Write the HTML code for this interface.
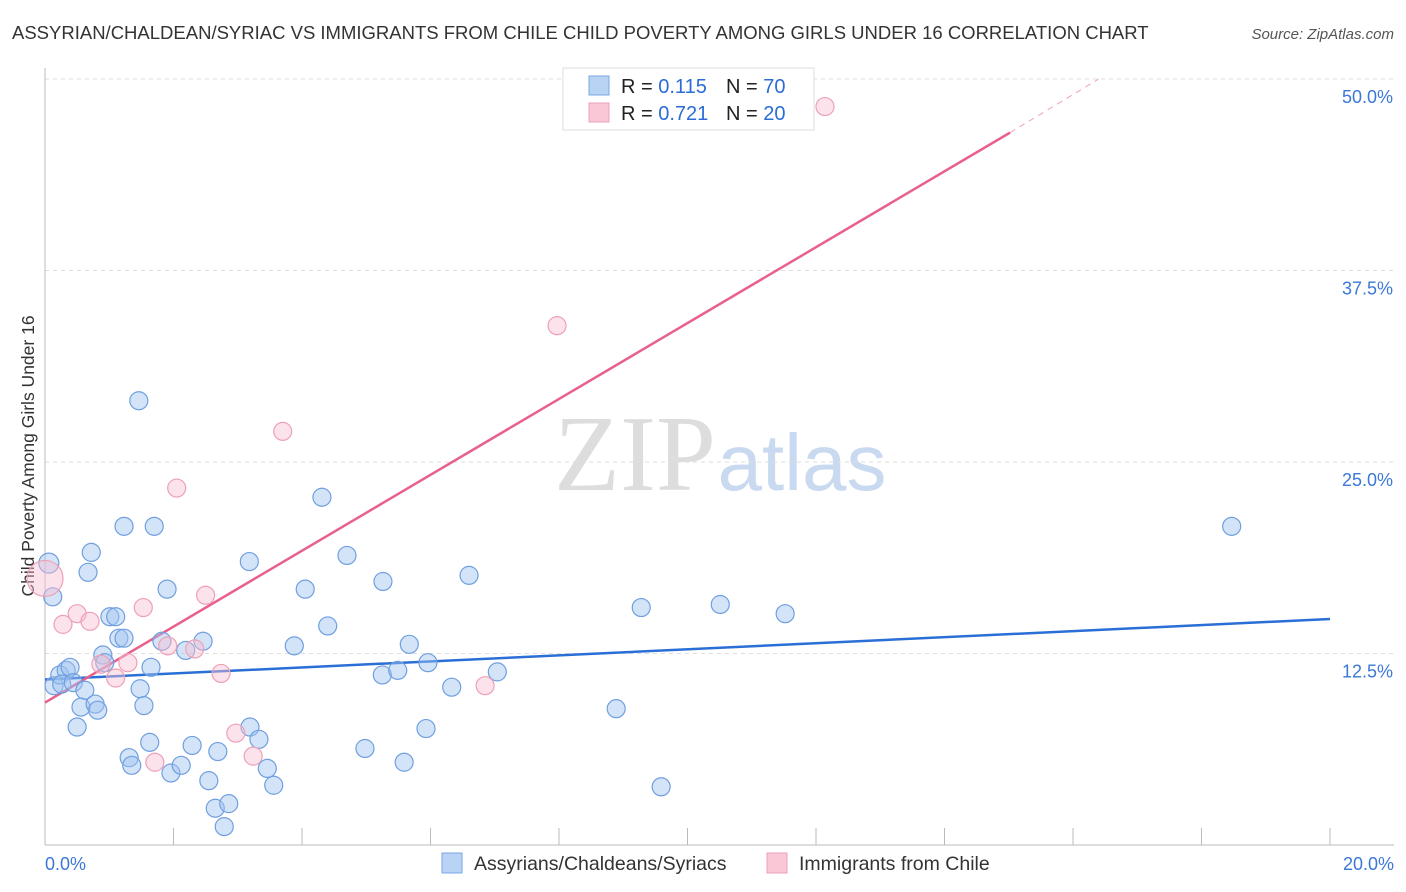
<!DOCTYPE html>
<html><head><meta charset="utf-8"><style>
body{margin:0;background:#fff;font-family:"Liberation Sans",sans-serif;}
svg{display:block}
</style></head><body>
<svg id="chart" width="1406" height="892" xmlns="http://www.w3.org/2000/svg">
<text x="12" y="39" font-size="18.5" fill="#333">ASSYRIAN/CHALDEAN/SYRIAC VS IMMIGRANTS FROM CHILE CHILD POVERTY AMONG GIRLS UNDER 16 CORRELATION CHART</text>
<text x="1394" y="39" font-size="15" fill="#555" font-style="italic" text-anchor="end">Source: ZipAtlas.com</text>
<text x="34" y="456" font-size="17.5" fill="#333" text-anchor="middle" transform="rotate(-90 34 456)">Child Poverty Among Girls Under 16</text>
<g><text x="635" y="490" font-size="108" fill="#ddd" font-family="Liberation Serif,serif" text-anchor="middle">ZIP</text><text x="802" y="490" font-size="80" fill="#c9d9f0" text-anchor="middle">atlas</text></g>
<g id="grid"></g><g id="axes"></g><g id="lines"></g><g id="pts"></g>
<g>
<rect x="563" y="68" width="251" height="62" fill="#fff" stroke="#ddd"/>
<rect x="589" y="76" width="20" height="19" fill="#b9d3f5" stroke="#7aa7e6"/>
<rect x="589" y="103" width="20" height="19" fill="#f9c7d6" stroke="#eea0b8"/>
<text x="621" y="93" font-size="20" fill="#222">R = <tspan fill="#2b6cd6">0.115</tspan></text>
<text x="726" y="93" font-size="20" fill="#222">N = <tspan fill="#2b6cd6">70</tspan></text>
<text x="621" y="120" font-size="20" fill="#222">R = <tspan fill="#2b6cd6">0.721</tspan></text>
<text x="726" y="120" font-size="20" fill="#222">N = <tspan fill="#2b6cd6">20</tspan></text>
</g>
<g>
<rect x="442" y="853" width="20" height="20" fill="#b9d3f5" stroke="#7aa7e6"/>
<text x="474" y="870" font-size="19.5" fill="#333">Assyrians/Chaldeans/Syriacs</text>
<rect x="767" y="853" width="20" height="20" fill="#f9c7d6" stroke="#eea0b8"/>
<text x="799" y="870" font-size="19.5" fill="#333">Immigrants from Chile</text>
</g>
</svg>
<script>
const yTicks=[12.5,25,37.5,50];
const yTickLabels=["12.5%","25.0%","37.5%","50.0%"];
const xTicks=[0,2,4,6,8,10,12,14,16,18,20];
const blueX=[0.06,0.12,0.14,0.23,0.33,0.39,0.26,0.44,0.62,0.5,0.56,0.78,0.82,0.67,0.72,0.9,0.93,1.01,1.1,1.15,1.23,1.23,1.7,1.46,1.48,1.54,1.63,1.65,1.31,1.35,1.82,1.9,1.96,2.12,2.19,2.29,2.46,2.55,2.65,2.69,2.79,2.86,3.19,3.18,3.33,3.46,3.56,3.88,4.05,4.31,4.4,4.7,4.98,5.25,5.26,5.49,5.59,5.67,5.93,5.96,6.33,6.6,7.04,8.89,9.28,9.59,10.51,11.52,18.47];
const blueY=[18.4,16.2,10.4,11.1,11.4,11.6,10.5,10.6,10.1,7.7,9.0,9.2,8.8,17.8,19.1,12.4,11.9,14.9,14.9,13.5,13.5,20.8,20.8,29.0,10.2,9.1,6.7,11.6,5.7,5.2,13.3,16.7,4.7,5.2,12.7,6.5,13.3,4.2,2.4,6.1,1.2,2.7,7.7,18.5,6.9,5.0,3.9,13.0,16.7,22.7,14.3,18.9,6.3,11.1,17.2,11.4,5.4,13.1,7.6,11.9,10.3,17.6,11.3,8.9,15.5,3.8,15.7,15.1,20.8];
const pinkX=[0,0.28,0.5,0.7,0.87,1.1,1.29,1.53,1.71,1.91,2.05,2.33,2.5,2.74,2.97,3.24,3.7,6.85,7.97,12.14];
const pinkY=[17.4,14.4,15.1,14.6,11.8,10.9,11.9,15.5,5.4,13.0,23.3,12.8,16.3,11.2,7.3,5.8,27.0,10.4,33.9,48.2];
const blueTrend=[[0,10.8],[20,14.75]];
const pinkTrend=[[0,9.3],[15.02,46.5]];
const pinkTrendDash=[[15.02,46.5],[16.4,50]];
const NS="http://www.w3.org/2000/svg";
const sx=v=>45+v*64.25, sy=v=>845-v*15.32;
function mk(tag,attrs,parent){const e=document.createElementNS(NS,tag);for(const k in attrs)e.setAttribute(k,attrs[k]);document.getElementById(parent).appendChild(e);return e;}
yTicks.forEach((t,i)=>{
 const l=mk('line',{x1:45,x2:1394,y1:sy(t),y2:sy(t),stroke:'#ddd','stroke-dasharray':'4,4'},'grid');
 
 
 const tx=mk('text',{x:1393,y:sy(t)+24,'font-size':18,fill:'#3b78d8','text-anchor':'end'},'grid');
 tx.textContent=yTickLabels[i];
 
 
});
const ax=mk('line',{x1:45,x2:1394,y1:845,y2:845,stroke:'#bbb'},'axes');


const ay=mk('line',{x1:45,x2:45,y1:68,y2:845,stroke:'#bbb'},'axes');


xTicks.forEach(t=>{const l=mk('line',{x1:sx(t),x2:sx(t),y1:828,y2:845,stroke:'#bbb'},'axes');
 
 });
const x0=mk('text',{x:45,y:870,'font-size':18,fill:'#3b78d8'},'axes');x0.textContent='0.0%';


const x1=mk('text',{x:1394,y:870,'font-size':18,fill:'#3b78d8','text-anchor':'end'},'axes');x1.textContent='20.0%';


blueX.forEach((x,i)=>{const c=mk('circle',{cx:sx(x),cy:sy(blueY[i]),r:i==0?10:9,fill:'rgba(160,196,240,0.45)',stroke:'#6f9fe0','stroke-width':1.2},'pts');
 
 });
pinkX.forEach((x,i)=>{const c=mk('circle',{cx:sx(x),cy:sy(pinkY[i]),r:i==0?18:9,fill:'rgba(248,190,208,0.45)',stroke:'#eea0b8','stroke-width':1.2},'pts');
 
 });
const bl=mk('line',{x1:sx(blueTrend[0][0]),y1:sy(blueTrend[0][1]),x2:sx(blueTrend[1][0]),y2:sy(blueTrend[1][1]),stroke:'#2a6fd6','stroke-width':2.5},'lines');


const pl=mk('line',{x1:sx(pinkTrend[0][0]),y1:sy(pinkTrend[0][1]),x2:sx(pinkTrend[1][0]),y2:sy(pinkTrend[1][1]),stroke:'#e8608c','stroke-width':2.5},'lines');


const pd=mk('line',{x1:sx(pinkTrendDash[0][0]),y1:sy(pinkTrendDash[0][1]),x2:sx(pinkTrendDash[1][0]),y2:sy(pinkTrendDash[1][1]),stroke:'#f0a0b8','stroke-width':1,'stroke-dasharray':'6,5'},'lines');


</script>
</body></html>
